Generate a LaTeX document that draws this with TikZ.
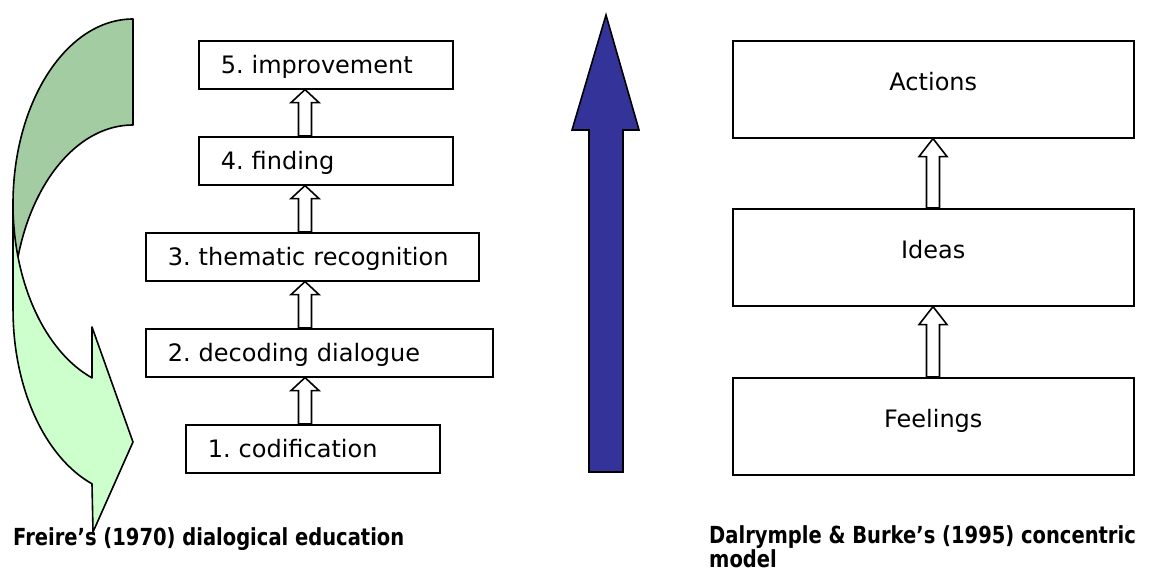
\documentclass[tikz,border=0pt]{standalone}
\usepackage{fontspec}
\setmainfont{DejaVu Sans}
\newfontface\capfont[FakeStretch=0.83]{DejaVu Sans Bold}
\usetikzlibrary{calc}
\definecolor{dkgreen}{RGB}{163,204,163}
\definecolor{ltgreen}{RGB}{204,255,204}
\definecolor{navyblue}{RGB}{51,51,153}
\frenchspacing
\newcommand{\hup}[3]{\draw[hol] let \p1=(#1), \p2=(#2) in
  (\x1-6.5pt,\y1) -- (\x1-6.5pt,\y2-#3pt) -- (\x1-14pt,\y2-#3pt) -- (\x2,\y2)
  -- (\x1+14pt,\y2-#3pt) -- (\x1+6.5pt,\y2-#3pt) -- (\x1+6.5pt,\y1) -- cycle;}
\begin{document}
\begin{tikzpicture}[x=1pt,y=-1pt,
  lbox/.style={draw, line width=1.6pt, anchor=north west, inner xsep=22pt, inner ysep=0pt,
    text height=33pt, text depth=15pt, align=left, font=\fontsize{24}{28}\selectfont},
  rbox/.style={draw, line width=1.6pt, anchor=north west, inner xsep=0pt, inner ysep=0pt,
    text width=401pt, align=center, text height=50pt, text depth=47pt, font=\fontsize{24}{28}\selectfont},
  hol/.style={draw, fill=white, line width=1.6pt, line join=miter},
  captext/.style={anchor=base west, inner sep=0pt, align=left, font=\capfont\fontsize{23.5}{24}\selectfont},
  band/.style={draw, line width=1.6pt, line join=round}]
\useasboundingbox (0,0) rectangle (1150,574);
% curved green arrow
\path[band, fill=dkgreen] (133,19) arc[start angle=90, end angle=180, x radius=120pt, y radius=185pt]
  -- (13,310) arc[start angle=180, end angle=90, x radius=120pt, y radius=185pt] -- cycle;
\path[band, fill=ltgreen] (13,204) arc[start angle=180, end angle=250, x radius=120pt, y radius=185pt]
  -- (92,327) -- (133,442) -- (93,532) -- (92,483.8)
  arc[start angle=250, end angle=180, x radius=120pt, y radius=185pt] -- cycle;
% left chain
\node[lbox, text width=210pt] (b5) at (198,40) {5. improvement};
\node[lbox, text width=210pt] (b4) at (198,136) {4. finding};
\node[lbox, text width=289pt] (b3) at (145,232) {3. thematic recognition};
\node[lbox, text width=303pt] (b2) at (145,328) {2. decoding dialogue};
\node[lbox, text width=210pt] (b1) at (185,424) {1. codification};
\coordinate (axL) at (305,0);
\hup{b1.north -| axL}{b2.south -| axL}{13}
\hup{b2.north -| axL}{b3.south -| axL}{13}
\hup{b3.north -| axL}{b4.south -| axL}{13}
\hup{b4.north -| axL}{b5.south -| axL}{13}
% blue arrow
\draw[fill=navyblue, line width=1.6pt] (589,472) -- (589,130) -- (572,130) -- (606,15)
  -- (639,130) -- (623,130) -- (623,472) -- cycle;
% right chain
\node[rbox] (actions) at (732,40) {Actions};
\node[rbox] (ideas) at (732,208) {Ideas};
\node[rbox] (feelings) at (732,377) {Feelings};
\coordinate (axR) at (933,0);
\hup{feelings.north -| axR}{ideas.south -| axR}{18}
\hup{ideas.north -| axR}{actions.south -| axR}{18}
% captions
\node[captext] (capL) at (13,545) {Freire’s (1970) dialogical education};
\node[captext] (capR) at (709,567) {Dalrymple \& Burke’s (1995) concentric\\model};
\end{tikzpicture}
\end{document}
